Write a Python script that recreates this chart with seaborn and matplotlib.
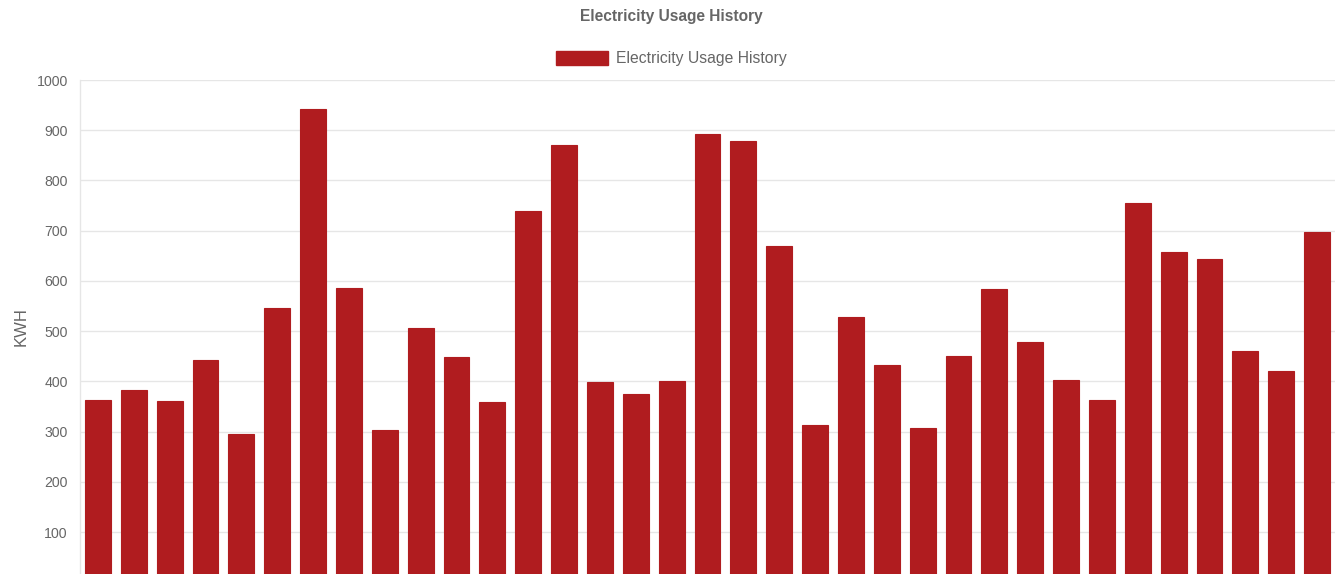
import numpy as np
import pandas as pd
import matplotlib
matplotlib.use('Agg')
import matplotlib.pyplot as plt
import seaborn as sns
from matplotlib.patches import Patch

# Data (x labels are cut off in the original)
periods = [str(i) for i in range(1, 36)]
usage_kwh = [362, 383, 360, 443, 295, 547, 943, 585, 304, 506,
             449, 359, 739, 870, 399, 375, 401, 893, 878, 670,
             314, 529, 433, 308, 450, 583, 478, 402, 362, 755,
             657, 644, 461, 420, 698]
y_ticks = [100, 200, 300, 400, 500, 600, 700, 800, 900, 1000]

df = pd.DataFrame({'period': periods, 'kwh': usage_kwh})

bar_color = '#b01c1f'
text_grey = '#666666'
grid_grey = '#e6e6e6'

sns.set_style('white')
plt.rcParams['font.family'] = ['Liberation Sans', 'DejaVu Sans']

fig = plt.figure(figsize=(13.43, 5.74), dpi=100)
ax = fig.add_axes([80 / 1343, 0.0, (1335 - 80) / 1343, 1 - 80 / 574])

sns.barplot(data=df, x='period', y='kwh', color=bar_color, width=0.72,
            saturation=1, edgecolor=bar_color, linewidth=0.8, ax=ax, zorder=2)

ax.set_ylim(16.5, 1000)
ax.set_yticks(y_ticks)
ax.set_yticklabels([str(v) for v in y_ticks])
ax.set_xlabel('')
ax.set_xticklabels([])
ax.tick_params(axis='x', length=0)
ax.tick_params(axis='y', length=5.8, width=1, color=grid_grey, labelsize=10.2,
               labelcolor=text_grey, pad=3)
ax.yaxis.grid(True, color=grid_grey, linewidth=1, zorder=0)
ax.set_axisbelow(True)
for side in ['top', 'right', 'bottom']:
    ax.spines[side].set_visible(False)
ax.spines['left'].set_color(grid_grey)
ax.spines['left'].set_linewidth(1)

ax.set_ylabel('KWH', fontsize=12, color=text_grey, labelpad=6)

fig.text(0.5, 1 - 16 / 574, 'Electricity Usage History', ha='center', va='center',
         fontsize=11.2, fontweight='bold', color=text_grey)

handle = Patch(facecolor=bar_color, edgecolor=bar_color, label='Electricity Usage History')
fig.legend(handles=[handle], loc='center', bbox_to_anchor=(0.5, 1 - 58.5 / 574),
           frameon=False, fontsize=11.3, handlelength=3.3, handleheight=1.0,
           handletextpad=0.55, labelcolor=text_grey)

fig.savefig('out.png', dpi=100)
